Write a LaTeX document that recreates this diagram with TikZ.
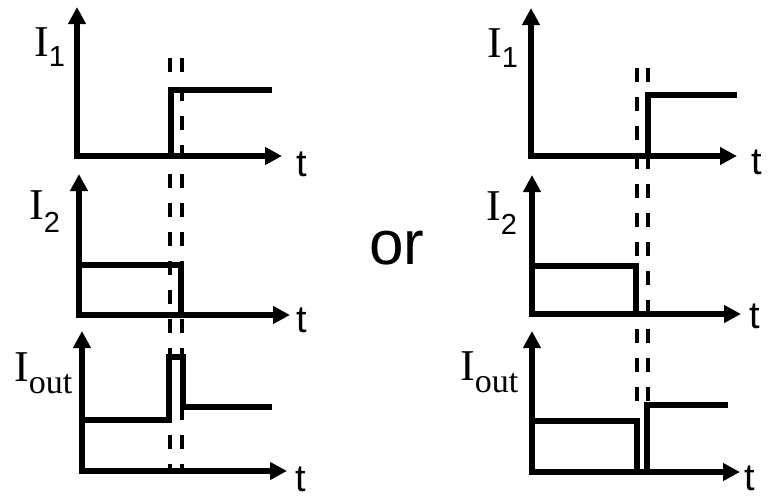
\documentclass[tikz,border=0pt]{standalone}
\usepackage{fontspec}
\setmainfont{Liberation Serif}
\setsansfont{Liberation Sans}
\usetikzlibrary{arrows.meta}
\begin{document}
\begin{tikzpicture}[x=1pt,y=-1pt,
  axis/.style={line width=5.5pt,{Triangle[length=17pt,width=17pt]}-{Triangle[length=17pt,width=17pt]}},
  sig/.style={line width=5.5pt},
  guide/.style={line width=3.5pt,dash pattern=on 14pt off 15pt},
  tlab/.style={inner sep=0pt,font=\sffamily\fontsize{38}{38}\selectfont},
  ilab/.style={inner sep=0pt,anchor=base west,font=\fontsize{44}{44}\selectfont}]
\useasboundingbox[fill=white] (0,0) rectangle (768,498);
% ---------- left column ----------
\draw[guide] (170,58) -- (170,470);
\draw[guide] (182,58) -- (182,470);
\draw[axis] (77,7) -- (77,156) -- (282,156);
\draw[axis] (79,174) -- (79,315) -- (290,315);
\draw[axis] (82,331) -- (82,471) -- (287,471);
\draw[sig] (171,158) -- (171,90) -- (272,90);
\draw[sig] (79,265) -- (181,265) -- (181,317);
\draw[sig] (82,420) -- (169,420) -- (169,357) -- (183,357) -- (183,407) -- (272,407);
\node[ilab] (la) at (34,56) {I\raisebox{-10pt}{\sffamily\fontsize{29}{29}\selectfont 1}};
\node[ilab] (lb) at (29,219) {I\raisebox{-13pt}{\sffamily\fontsize{29}{29}\selectfont 2}};
\node[ilab] (lc) at (14,381) {I\raisebox{-12pt}{\fontsize{34}{34}\selectfont out}};
\node[tlab] (ta) at (302,164) {t};
\node[tlab] (tb) at (302,320) {t};
\node[tlab] (tc) at (301,479) {t};
% ---------- middle ----------
\node[inner sep=0pt,font=\sffamily\fontsize{62}{62}\selectfont] (or) at (397,248) {or};
% ---------- right column ----------
\draw[guide] (637,68) -- (637,405);
\draw[guide] (648,68) -- (648,405);
\draw[axis] (531,8) -- (531,156) -- (737,156);
\draw[axis] (532,175) -- (532,314) -- (741,314);
\draw[axis] (532,331) -- (532,472) -- (740,472);
\draw[sig] (648,158) -- (648,95) -- (737,95);
\draw[sig] (532,266) -- (636,266) -- (636,316);
\draw[sig] (532,421) -- (637,421) -- (637,474);
\draw[sig] (647,474) -- (647,405) -- (728,405);
\node[ilab] (ra) at (487,57) {I\raisebox{-10pt}{\sffamily\fontsize{29}{29}\selectfont 1}};
\node[ilab] (rb) at (486,220) {I\raisebox{-14pt}{\sffamily\fontsize{29}{29}\selectfont 2}};
\node[ilab] (rc) at (460,380) {I\raisebox{-12pt}{\fontsize{34}{34}\selectfont out}};
\node[tlab] (td) at (757,162) {t};
\node[tlab] (te) at (755,316) {t};
\node[tlab] (tf) at (750,478) {t};
\end{tikzpicture}
\end{document}
